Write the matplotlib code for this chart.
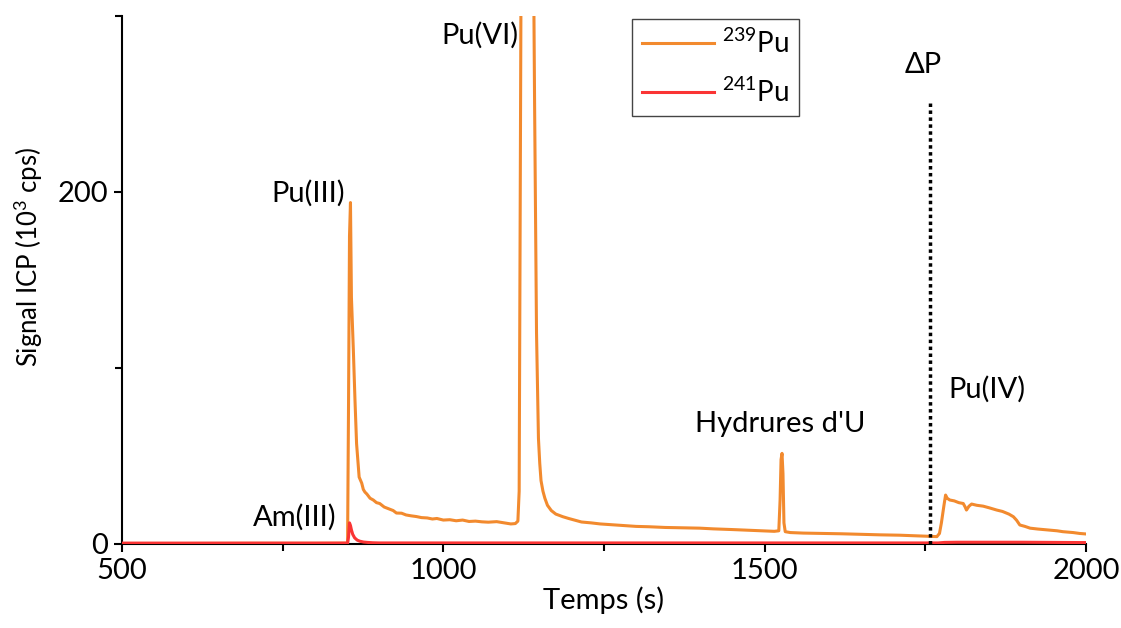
import matplotlib
matplotlib.use("Agg")
import matplotlib.pyplot as plt

plt.rcParams['font.family'] = ['Lato', 'DejaVu Sans']
plt.rcParams['mathtext.fontset'] = 'custom'
plt.rcParams['mathtext.rm'] = 'Lato'
plt.rcParams['mathtext.default'] = 'rm'

# ---- data ----
t239 = [500, 600, 700, 800, 851, 852.5, 854, 855.5, 857, 860, 862.5, 865, 869, 873, 875.5, 878, 881,
        886, 891, 896, 901, 908, 915, 922, 927, 935, 942, 950, 958, 966, 975, 983, 990, 1000, 1010,
        1020, 1030, 1040, 1050, 1060, 1070, 1083, 1095, 1105, 1112, 1116, 1118, 1120, 1122, 1125,
        1130, 1135, 1139, 1142, 1145, 1148, 1150, 1152, 1155, 1158, 1162, 1168, 1175, 1186, 1195,
        1205, 1215, 1230, 1244, 1260, 1280, 1300, 1320, 1345, 1370, 1399, 1420, 1450, 1475, 1500,
        1515, 1522, 1524, 1525.5, 1527, 1528.5, 1530, 1532, 1540, 1560, 1590, 1620, 1650, 1680, 1710,
        1740, 1755, 1768, 1772, 1775, 1777, 1779, 1781.5, 1784, 1788, 1795, 1802, 1809, 1812, 1814,
        1818, 1822, 1830, 1840, 1850, 1861, 1870, 1880, 1887, 1892, 1897, 1905, 1913, 1925, 1940,
        1955, 1964, 1980, 1990, 2000]
v239 = [0.3, 0.3, 0.4, 0.4, 0.5, 80, 175, 194, 140, 110, 82, 57, 38, 34.6, 31, 29.5, 28.4,
        26, 25, 23.5, 23, 21, 20, 19, 17.6, 17.5, 16.5, 16, 15.6, 15, 14.8, 14.2, 14.5, 13.6, 13.8,
        13.2, 13.6, 12.8, 13, 12.6, 12.4, 12.7, 12, 11.4, 11.6, 13, 30, 220, 450, 620,
        700, 620, 400, 250, 120, 60, 46, 36, 30, 26, 22, 19, 17, 15.5, 14.5,
        13.5, 12.5, 12, 11.4, 11, 10.5, 10, 9.8, 9.4, 9.2, 9, 8.6, 8.2, 7.8, 7.4,
        7.2, 7.5, 25, 48, 51.5, 40, 12, 7, 6.5, 6.2, 6, 5.8, 5.5, 5.2, 5,
        4.6, 4.4, 4.2, 6, 12, 17, 22, 27.8, 26, 25, 24.5, 23.5, 23, 21, 19.3,
        21.5, 22.7, 22, 21.5, 20.5, 19.3, 18.5, 17, 15.5, 13.5, 10.8, 10, 9, 8.5, 8,
        7.5, 7, 6.5, 6, 5.7]

t241 = [500, 700, 851, 852.5, 854, 855.5, 857, 859, 862, 866, 870, 876, 882, 890, 900, 1000,
        1200, 1400, 1600, 1770, 1780, 1800, 1900, 2000]
v241 = [0.5, 0.5, 0.5, 4, 12, 10.5, 8, 5.5, 3.5, 2.2, 1.6, 1.1, 0.9, 0.7, 0.6, 0.6,
        0.6, 0.6, 0.6, 0.6, 0.9, 1.0, 1.0, 0.8]

t_base = [500, 2000]
v_base = [0.0, 0.0]

dp_x = 1757
dp_top = 252

labels_text = ['Pu(VI)', 'Pu(III)', 'Am(III)', "Hydrures d'U", 'Pu(IV)', 'ΔP']
labels_x = [1057, 789, 769, 1524, 1846, 1746]
labels_y = [289, 199, 15.3, 68, 88, 272]

xticks_major = [500, 1000, 1500, 2000]
xticks_minor = [750, 1250, 1750]
yticks_major = [0, 200]
yticks_minor = [100, 300]

# ---- figure ----
fig = plt.figure(figsize=(11.21, 6.28), dpi=100)
ax = fig.add_axes([122/1121, 1-544/628, (1086-122)/1121, (544-16)/628])

ax.plot(t_base, v_base, color='black', lw=1.8, zorder=1)
ax.plot(t239, v239, color='#F28A2E', lw=2.2, label=r'$^{239}$Pu', zorder=3)
ax.plot(t241, v241, color='#FA3434', lw=2.2, label=r'$^{241}$Pu', zorder=4)
ax.plot([dp_x, dp_x], [0, dp_top], color='black', lw=2.5, linestyle=(0, (1, 1)), zorder=5)

for s, x, y in zip(labels_text, labels_x, labels_y):
    ax.text(x, y, s, ha='center', va='center', fontsize=21)

ax.set_xlim(500, 2000)
ax.set_ylim(0, 300)
ax.set_xticks(xticks_major)
ax.set_xticks(xticks_minor, minor=True)
ax.set_yticks(yticks_major)
ax.set_yticks(yticks_minor, minor=True)
ax.tick_params(axis='both', which='major', direction='out', length=6, width=1.5, labelsize=21, pad=4)
ax.tick_params(axis='both', which='minor', direction='out', length=5, width=1.5)

for side in ['top', 'right']:
    ax.spines[side].set_visible(False)
for side in ['left', 'bottom']:
    ax.spines[side].set_linewidth(1.5)

ax.set_xlabel('Temps (s)', fontsize=21, labelpad=2)
ax.set_ylabel(r'Signal ICP (10$^3$ cps)', fontsize=18.5)
ax.yaxis.set_label_coords(-0.080, 0.543)

leg = ax.legend(loc='upper left', bbox_to_anchor=(632/1121, 1-19/628),
                bbox_transform=fig.transFigure, borderaxespad=0, fontsize=20,
                frameon=True, fancybox=False, edgecolor='#444444', framealpha=1,
                handlelength=2.6, handletextpad=0.3, labelspacing=0.7, borderpad=0.35)
leg.get_frame().set_linewidth(1.0)

fig.savefig('out.png', dpi=100)
